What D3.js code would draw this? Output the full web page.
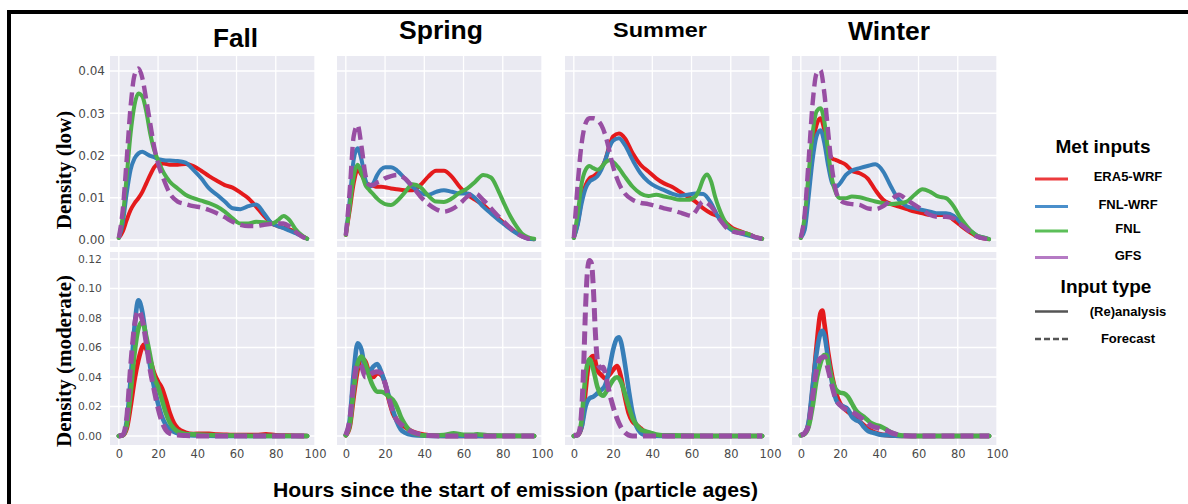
<!DOCTYPE html>
<html><head><meta charset="utf-8">
<script src="https://cdn.jsdelivr.net/npm/d3@7"></script>
<style>body{margin:0;background:#fff}svg{display:block}</style>
</head><body><svg id="c" width="1188" height="504"></svg>
<script>
// ---------------- data ----------------
const seasons = ["Fall", "Spring", "Summer", "Winter"];
const metInputs = ["ERA5-WRF", "FNL-WRF", "FNL", "GFS"];
const inputTypes = ["(Re)analysis", "Forecast"];
const metInputType = ["(Re)analysis", "(Re)analysis", "(Re)analysis", "Forecast"];
const xTicks = [0, 20, 40, 60, 80, 100];
const yTicksLow = [0, 0.01, 0.02, 0.03, 0.04];
const yTicksMod = [0, 0.02, 0.04, 0.06, 0.08, 0.10, 0.12];
const rowLabels = ["Density (low)", "Density (moderate)"];
const xTitle = "Hours since the start of emission (particle ages)";

// [hours, density] pairs
const fallLowERA5WRF = [[0,.0005],[2,.002],[4,.0047],[6,.0071],[8,.0087],[10,.0099],[12,.0114],[14,.0134],[16,.0154],[18,.0172],[20,.018],[23,.0181],[26,.0178],[30,.0178],[34,.018],[38,.0175],[42,.0164],[46,.0151],[50,.014],[54,.013],[58,.0124],[62,.0112],[66,.0099],[70,.0079],[74,.0057],[78,.0039],[81,.0033],[84,.0029],[87,.0025],[90,.002],[93,.0011],[96,.0003]];
const fallLowFNLWRF = [[0,.0005],[2,.004],[4,.011],[6,.0166],[8,.0193],[10,.0205],[12,.0209],[14,.0204],[16,.0199],[18,.0196],[20,.0191],[23,.0189],[26,.0188],[30,.0187],[34,.0183],[38,.0166],[42,.0146],[46,.0122],[50,.0107],[54,.0091],[58,.0075],[62,.0073],[66,.008],[70,.0084],[74,.0063],[78,.0039],[81,.0033],[84,.0028],[87,.0022],[90,.0016],[93,.001],[96,.0003]];
const fallLowFNL = [[0,.0005],[2,.0055],[4,.015],[6,.0252],[8,.032],[10,.0347],[12,.034],[14,.0304],[16,.0252],[18,.0213],[20,.0189],[23,.0158],[26,.0138],[30,.0122],[34,.0107],[38,.0099],[42,.0093],[46,.0087],[50,.0079],[54,.0067],[58,.0051],[62,.0039],[66,.0039],[70,.0043],[74,.0042],[78,.0039],[81,.0046],[84,.0057],[87,.0047],[90,.0026],[93,.0012],[96,.0003]];
const fallLowGFS = [[0,.0005],[2,.0071],[4,.019],[6,.0316],[8,.039],[10,.0406],[12,.0383],[14,.0331],[16,.0276],[18,.0221],[20,.0181],[23,.0142],[26,.011],[30,.0091],[34,.0085],[38,.008],[42,.0077],[46,.0071],[50,.0063],[54,.0054],[58,.0043],[62,.0036],[66,.0033],[70,.0033],[74,.0036],[78,.0038],[81,.0039],[84,.0039],[87,.0032],[90,.002],[93,.0009],[96,.0002]];

const springLowERA5WRF = [[0,.0012],[2,.0071],[4,.0134],[6,.0166],[8,.0154],[10,.0138],[12,.013],[14,.0128],[16,.0126],[18,.0126],[20,.0125],[23,.0122],[26,.012],[30,.0118],[34,.0118],[38,.013],[42,.015],[46,.0164],[50,.0164],[54,.015],[58,.0126],[62,.0107],[66,.0095],[70,.0083],[74,.0067],[78,.0051],[81,.0039],[84,.0028],[87,.0017],[90,.0009],[93,.0004],[96,.0002]];
const springLowFNLWRF = [[0,.0015],[2,.0095],[4,.019],[6,.0217],[8,.019],[10,.0142],[12,.0126],[14,.0134],[16,.0154],[18,.0167],[20,.0172],[23,.0172],[26,.0165],[30,.0146],[34,.0126],[38,.0112],[42,.0107],[46,.0114],[50,.0118],[54,.0114],[58,.011],[62,.011],[66,.0099],[70,.0079],[74,.0063],[78,.0047],[81,.0036],[84,.0025],[87,.0016],[90,.0008],[93,.0003],[96,.0002]];
const springLowFNL = [[0,.0012],[2,.0079],[4,.015],[6,.0178],[8,.0158],[10,.013],[12,.0118],[14,.0108],[16,.0098],[18,.009],[20,.0085],[23,.0083],[26,.0092],[30,.0112],[34,.0132],[38,.0125],[42,.0105],[46,.0091],[50,.009],[54,.0098],[58,.0112],[62,.0122],[66,.0138],[70,.0154],[74,.0148],[78,.0114],[81,.0083],[84,.0055],[87,.0032],[90,.0014],[93,.0006],[96,.0003]];
const springLowGFS = [[0,.001],[2,.0118],[4,.0245],[6,.0272],[8,.0221],[10,.0154],[12,.013],[14,.013],[16,.0136],[18,.014],[20,.0146],[23,.0151],[26,.0154],[30,.0146],[34,.0126],[38,.0103],[42,.0085],[46,.0073],[50,.0067],[54,.0073],[58,.0085],[62,.0103],[66,.011],[70,.0095],[74,.0075],[78,.0055],[81,.0041],[84,.0028],[87,.0016],[90,.0008],[93,.0003],[96,.0002]];

const summerLowERA5WRF = [[0,.0005],[2,.004],[4,.0095],[6,.013],[8,.0146],[10,.0151],[12,.0158],[14,.017],[16,.0189],[18,.0221],[20,.0245],[23,.0252],[26,.0241],[30,.0205],[34,.0178],[38,.0162],[42,.0146],[46,.0134],[50,.0126],[54,.0114],[58,.0103],[62,.0091],[66,.0075],[70,.0063],[74,.0055],[78,.0039],[81,.0028],[84,.0022],[87,.0017],[90,.0012],[93,.0006],[96,.0003]];
const summerLowFNLWRF = [[0,.0005],[2,.0036],[4,.0087],[6,.0122],[8,.0138],[10,.0144],[12,.0151],[14,.0166],[16,.0189],[18,.0217],[20,.0235],[23,.0241],[26,.0225],[30,.0189],[34,.0158],[38,.0138],[42,.0126],[46,.0118],[50,.011],[54,.0105],[58,.0107],[62,.011],[66,.0109],[70,.0087],[74,.0051],[78,.0032],[81,.0022],[84,.0017],[87,.0013],[90,.0009],[93,.0005],[96,.0003]];
const summerLowFNL = [[0,.0005],[2,.0063],[4,.0134],[6,.0166],[8,.0175],[10,.017],[12,.0166],[14,.0172],[16,.0183],[18,.0189],[20,.0185],[23,.017],[26,.015],[30,.0126],[34,.011],[38,.0104],[42,.0107],[46,.0103],[50,.0099],[54,.0095],[58,.0095],[62,.0103],[64,.012],[66,.0145],[68,.0155],[70,.0138],[72,.0103],[74,.0075],[78,.0037],[81,.0025],[84,.002],[87,.0017],[90,.0012],[93,.0006],[96,.0003]];
const summerLowGFS = [[0,.0005],[2,.0134],[4,.0229],[6,.0276],[8,.0288],[10,.0288],[12,.0284],[14,.0272],[16,.0249],[18,.0213],[20,.0174],[23,.0134],[26,.011],[30,.0095],[34,.0088],[38,.0085],[42,.008],[46,.0075],[50,.0071],[54,.0065],[58,.0059],[60,.0057],[62,.0067],[66,.0091],[70,.0079],[74,.0051],[78,.0028],[81,.002],[84,.0017],[87,.0016],[90,.0012],[93,.0006],[96,.0003]];

const winterLowERA5WRF = [[0,.0005],[2,.004],[4,.0134],[6,.0221],[8,.0272],[10,.0288],[12,.026],[14,.0213],[16,.0193],[18,.0189],[20,.0185],[23,.0178],[26,.0164],[30,.0158],[34,.0146],[38,.0118],[42,.0095],[46,.0085],[50,.0079],[54,.0073],[58,.0067],[62,.0063],[66,.0059],[70,.0059],[74,.0059],[78,.0047],[81,.0036],[84,.0025],[87,.0016],[90,.0008],[93,.0004],[96,.0002]];
const winterLowFNLWRF = [[0,.0005],[2,.0024],[4,.0103],[6,.0189],[8,.0245],[10,.026],[12,.0229],[14,.0174],[16,.0134],[18,.0126],[20,.0134],[23,.0154],[26,.0164],[30,.017],[34,.0175],[38,.0179],[42,.0162],[46,.0126],[50,.0095],[54,.008],[58,.0075],[62,.0071],[66,.0067],[70,.0063],[74,.0063],[78,.0057],[81,.0043],[84,.0032],[87,.002],[90,.001],[93,.0006],[96,.0002]];
const winterLowFNL = [[0,.0005],[2,.0055],[4,.0158],[6,.0252],[8,.0304],[10,.0312],[12,.028],[14,.0205],[16,.0142],[18,.011],[20,.0099],[23,.0099],[26,.0103],[30,.0101],[34,.0096],[38,.0091],[42,.0087],[46,.0085],[50,.0087],[54,.0091],[58,.0107],[62,.012],[66,.0114],[70,.0103],[74,.0099],[78,.0079],[81,.0055],[84,.0036],[87,.002],[90,.001],[93,.0006],[96,.0002]];
const winterLowGFS = [[0,.0005],[2,.0063],[4,.019],[6,.0323],[8,.0394],[10,.0402],[12,.0347],[14,.0252],[16,.0166],[18,.0114],[20,.0095],[23,.0087],[26,.0085],[30,.0083],[34,.0075],[38,.0073],[42,.008],[46,.0095],[50,.0107],[54,.0095],[58,.0083],[62,.0071],[66,.0059],[70,.0055],[74,.0055],[78,.0051],[81,.0039],[84,.0028],[87,.0016],[90,.0008],[93,.0004],[96,.0002]];

const fallModERA5WRF = [[0,0],[2,.0005],[4,.005],[6,.02],[8,.038],[10,.0515],[12,.0606],[13,.062],[14,.059],[16,.0515],[18,.0425],[20,.0368],[22,.0323],[24,.0244],[26,.0154],[28,.009],[30,.0052],[34,.0023],[38,.0014],[42,.0015],[46,.0015],[50,.001],[55,.0008],[60,.0006],[70,.0006],[75,.0012],[80,.0005],[90,.0002],[96,0]];
const fallModFNLWRF = [[0,0],[2,.0007],[4,.0097],[6,.038],[8,.074],[10,.092],[12,.084],[14,.065],[16,.047],[18,.033],[20,.022],[22,.013],[24,.0075],[26,.0045],[28,.003],[30,.0018],[34,.0007],[40,.0003],[50,0],[96,0]];
const fallModFNL = [[0,0],[2,.0005],[4,.007],[6,.029],[8,.056],[10,.073],[12,.0775],[14,.0673],[16,.054],[18,.04],[20,.0334],[22,.0244],[24,.0154],[26,.009],[28,.0052],[30,.003],[34,.0014],[40,.001],[50,.0005],[60,.0003],[70,0],[96,0]];
const fallModGFS = [[0,0],[2,.0008],[4,.012],[6,.047],[8,.075],[10,.085],[12,.0786],[14,.0628],[16,.0447],[18,.0312],[20,.0188],[22,.0097],[24,.004],[26,.0018],[30,.0007],[34,.0003],[40,0],[96,0]];

const springModERA5WRF = [[0,.0005],[2,.0063],[4,.0267],[6,.0447],[8,.0527],[10,.0504],[12,.0425],[14,.04],[16,.0425],[18,.0414],[20,.0357],[22,.0244],[24,.0154],[26,.0108],[28,.0086],[30,.0063],[32,.0045],[34,.003],[38,.0014],[42,.0005],[50,0],[96,0]];
const springModFNLWRF = [[0,.0007],[2,.011],[4,.0425],[6,.0628],[8,.0583],[10,.0447],[12,.0436],[14,.047],[16,.0488],[18,.0436],[20,.0357],[22,.0267],[24,.0176],[26,.0097],[28,.0045],[30,.0023],[34,.0007],[40,.0002],[50,0],[96,0]];
const springModFNL = [[0,.0005],[2,.0075],[4,.031],[6,.049],[8,.0538],[10,.049],[12,.04],[14,.0334],[16,.03],[18,.03],[20,.0289],[22,.0267],[24,.0244],[26,.0199],[28,.0131],[30,.0081],[32,.0045],[34,.0023],[38,.0007],[42,.0003],[50,.0007],[55,.0018],[60,.0008],[65,.0008],[67,.0012],[72,.0005],[80,.0002],[96,0]];
const springModGFS = [[0,.0005],[2,.011],[4,.0357],[6,.049],[8,.047],[10,.04],[12,.0414],[14,.043],[16,.0436],[18,.0425],[20,.0357],[22,.0255],[24,.0165],[26,.0108],[28,.0081],[30,.0059],[32,.004],[34,.0027],[38,.0011],[42,.0004],[50,0],[96,0]];

const summerModERA5WRF = [[0,0],[2,.0007],[4,.0063],[5,.0176],[6,.031],[8,.0515],[10,.0542],[12,.0447],[14,.0414],[16,.039],[18,.0414],[20,.0447],[22,.0475],[24,.0402],[26,.0267],[28,.0154],[30,.0097],[32,.0075],[34,.0052],[36,.0029],[38,.0014],[40,.0007],[45,.0002],[50,0],[96,0]];
const summerModFNLWRF = [[0,0],[2,.0007],[4,.0063],[6,.02],[8,.0255],[10,.0267],[12,.0289],[14,.0312],[16,.0345],[18,.0447],[20,.0583],[22,.0662],[23,.0669],[24,.064],[26,.0493],[28,.0312],[30,.0154],[32,.0063],[34,.0023],[36,.0007],[40,.0002],[50,0],[96,0]];
const summerModFNL = [[0,0],[2,.001],[4,.0108],[5,.0267],[6,.0414],[8,.052],[10,.0447],[12,.0334],[14,.0278],[15,.0273],[16,.0289],[18,.0334],[20,.038],[22,.0398],[24,.0368],[26,.0289],[28,.0199],[30,.012],[32,.0075],[34,.0045],[36,.0034],[38,.0025],[40,.0018],[42,.0011],[45,.0005],[50,.0004],[60,.0001],[70,0],[96,0]];
const summerModGFS = [[0,.0005],[2,.0007],[3,.004],[4,.0176],[5,.047],[6,.0877],[7,.1125],[8,.119],[9,.117],[10,.099],[11,.0696],[12,.0515],[13,.047],[14,.0459],[15,.0466],[16,.0425],[18,.03],[20,.02],[22,.012],[24,.006],[26,.0025],[28,.0006],[30,0],[96,0]];

const winterModERA5WRF = [[0,.0005],[2,.0018],[4,.0086],[6,.0312],[8,.0606],[10,.0832],[11,.085],[12,.0764],[14,.056],[16,.0402],[18,.0289],[20,.0221],[22,.0188],[24,.0165],[26,.0142],[28,.012],[30,.0097],[32,.0075],[34,.0052],[36,.0034],[38,.0023],[40,.0014],[44,.0005],[48,.0002],[55,0],[96,0]];
const winterModFNLWRF = [[0,.0005],[2,.002],[4,.0097],[6,.0334],[8,.056],[10,.0696],[11,.0714],[12,.0685],[14,.0515],[16,.0357],[18,.0244],[20,.021],[22,.0199],[24,.0181],[26,.0131],[28,.0108],[30,.0097],[32,.0063],[34,.0036],[36,.0025],[38,.0018],[40,.0011],[44,.0005],[48,.0002],[55,0],[96,0]];
const winterModFNL = [[0,.0005],[2,.0015],[4,.0063],[6,.0199],[8,.038],[10,.0493],[12,.0549],[13,.0549],[14,.0493],[16,.038],[18,.0312],[20,.0294],[22,.0289],[24,.0267],[26,.0221],[28,.0176],[30,.0149],[32,.0131],[34,.0108],[36,.0086],[38,.0075],[40,.0068],[42,.0056],[44,.0041],[46,.0025],[48,.0014],[50,.0007],[54,.0002],[60,0],[96,0]];
const winterModGFS = [[0,.0005],[2,.002],[4,.0075],[6,.0267],[8,.0447],[10,.0527],[12,.0538],[14,.0447],[16,.0334],[18,.0244],[20,.021],[22,.0188],[24,.0176],[26,.0165],[28,.0149],[30,.0131],[32,.0108],[34,.0086],[36,.0068],[38,.0059],[40,.0052],[42,.0045],[44,.0036],[46,.0023],[48,.0014],[50,.0007],[54,.0002],[60,0],[96,0]];

// table built from the arrays: rows x seasons x met inputs
const panelData = [
  [[fallLowERA5WRF, fallLowFNLWRF, fallLowFNL, fallLowGFS],
   [springLowERA5WRF, springLowFNLWRF, springLowFNL, springLowGFS],
   [summerLowERA5WRF, summerLowFNLWRF, summerLowFNL, summerLowGFS],
   [winterLowERA5WRF, winterLowFNLWRF, winterLowFNL, winterLowGFS]],
  [[fallModERA5WRF, fallModFNLWRF, fallModFNL, fallModGFS],
   [springModERA5WRF, springModFNLWRF, springModFNL, springModGFS],
   [summerModERA5WRF, summerModFNLWRF, summerModFNL, summerModGFS],
   [winterModERA5WRF, winterModFNLWRF, winterModFNL, winterModGFS]]
];

// ---------------- layout & style ----------------
const colors = ["#e41a1c", "#377eb8", "#4daf4a", "#984ea3"];
const legendColors = ["#ec3b3d", "#4a8fcb", "#5cbf59", "#b57ac4"];
const colLeft = [110, 337, 565, 792];
const panelW = 205;
const rowTop = [56, 252];
const rowH = [191, 193];
const xDomain = [-4.5, 100];
const yDomains = [[-0.00166, 0.04355], [-0.0061, 0.12475]];
const yTicksByRow = [yTicksLow, yTicksMod];
const lineW = [4, 4.6];
const titleStyle = [
  {x: 235.5, y: 47, size: 26, len: 45},
  {x: 441, y: 39, size: 26, len: 84},
  {x: 660, y: 37, size: 21, len: 94},
  {x: 889, y: 40, size: 25.5, len: 82}
];
const sans = "'Liberation Sans', Arial, Helvetica, sans-serif";
const tickFont = "'DejaVu Sans', sans-serif";

const svg = d3.select("#c");
svg.append("rect").attr("width", 1188).attr("height", 504).attr("fill", "#fff");

// frame
svg.append("rect").attr("x", 7).attr("y", 10).attr("width", 1181).attr("height", 4).attr("fill", "#000");
svg.append("rect").attr("x", 7).attr("y", 10).attr("width", 4).attr("height", 494).attr("fill", "#000");

const x = d3.scaleLinear().domain(xDomain).range([0, panelW]);

for (let r = 0; r < 2; r++) {
  const y = d3.scaleLinear().domain(yDomains[r]).range([rowH[r], 0]);
  const line = d3.line().x(d => x(d[0])).y(d => y(d[1])).curve(d3.curveMonotoneX);
  for (let c = 0; c < 4; c++) {
    const g = svg.append("g").attr("transform", `translate(${colLeft[c]},${rowTop[r]})`);
    g.append("rect").attr("width", panelW).attr("height", rowH[r]).attr("fill", "#eaeaf2");
    // grid
    g.selectAll(".gy").data(yTicksByRow[r]).join("line")
      .attr("x1", 0).attr("x2", panelW).attr("y1", d => y(d)).attr("y2", d => y(d))
      .attr("stroke", "#fff").attr("stroke-width", 1.3);
    g.selectAll(".gx").data(xTicks).join("line")
      .attr("y1", 0).attr("y2", rowH[r]).attr("x1", d => x(d)).attr("x2", d => x(d))
      .attr("stroke", "#fff").attr("stroke-width", 1.3);
    // curves
    panelData[r][c].forEach((series, i) => {
      const dashed = metInputType[i] === "Forecast";
      g.append("path").datum(series).attr("d", line)
        .attr("fill", "none").attr("stroke", colors[i])
        .attr("stroke-width", dashed ? lineW[r] + 0.4 : lineW[r])
        .attr("stroke-linejoin", "round")
        .attr("stroke-linecap", dashed ? "butt" : "round")
        .attr("stroke-dasharray", dashed ? "13,6" : null);
    });
    // y tick labels (first column)
    if (c === 0) {
      const yAxis = d3.axisLeft(y).tickValues(yTicksByRow[r]).tickSize(0).tickPadding(r === 0 ? 5 : 8)
        .tickFormat(d3.format(".2f"));
      const ga = g.append("g").call(yAxis);
      ga.select(".domain").remove();
      ga.selectAll("text").attr("font-family", tickFont).attr("font-size", r === 0 ? 12 : 10.8).attr("fill", "#4a4a4a");
    }
    // x tick labels (bottom row)
    if (r === 1) {
      const xAxis = d3.axisBottom(x).tickValues(xTicks).tickSize(0).tickPadding(5).tickFormat(d3.format("d"));
      const ga = g.append("g").attr("transform", `translate(0,${rowH[r]})`).call(xAxis);
      ga.select(".domain").remove();
      ga.selectAll("text").attr("font-family", tickFont).attr("font-size", 11.5).attr("fill", "#4a4a4a");
    }
  }
}

// season titles
seasons.forEach((s, i) => {
  const t = titleStyle[i];
  svg.append("text").attr("x", t.x).attr("y", t.y).attr("text-anchor", "middle")
    .attr("font-family", sans).attr("font-weight", "bold").attr("font-size", t.size)
    .attr("textLength", t.len).attr("lengthAdjust", "spacingAndGlyphs")
    .text(s);
});

// row labels
[170, 361].forEach((cy, r) => {
  svg.append("text").attr("transform", `translate(71,${cy}) rotate(-90)`)
    .attr("text-anchor", "middle").attr("font-family", "'Liberation Serif', 'Times New Roman', serif")
    .attr("font-weight", "bold").attr("font-size", 21).text(rowLabels[r]);
});

// x title
svg.append("text").attr("x", 515.5).attr("y", 497).attr("text-anchor", "middle")
  .attr("font-family", sans).attr("font-weight", "bold").attr("font-size", 21)
  .attr("textLength", 485).attr("lengthAdjust", "spacingAndGlyphs").text(xTitle);

// legend
const lg = svg.append("g");
lg.append("text").attr("x", 1103).attr("y", 153).attr("text-anchor", "middle")
  .attr("font-family", sans).attr("font-weight", "bold").attr("font-size", 19).text("Met inputs");
const metLineY = [179, 206.5, 231, 257.5];
metInputs.forEach((m, i) => {
  lg.append("line").attr("x1", 1035).attr("x2", 1068).attr("y1", metLineY[i]).attr("y2", metLineY[i])
    .attr("stroke", legendColors[i]).attr("stroke-width", 3);
  lg.append("text").attr("x", 1128).attr("y", metLineY[i] + 2).attr("text-anchor", "middle")
    .attr("font-family", sans).attr("font-weight", "bold").attr("font-size", 13).text(m);
});
lg.append("text").attr("x", 1106).attr("y", 292.5).attr("text-anchor", "middle")
  .attr("font-family", sans).attr("font-weight", "bold").attr("font-size", 19).text("Input type");
const typeLineY = [311.5, 339];
inputTypes.forEach((t, i) => {
  lg.append("line").attr("x1", 1035).attr("x2", 1068).attr("y1", typeLineY[i]).attr("y2", typeLineY[i])
    .attr("stroke", "#555").attr("stroke-width", 2.5)
    .attr("stroke-dasharray", i === 1 ? "6,3" : null);
  lg.append("text").attr("x", 1128).attr("y", typeLineY[i] + 4).attr("text-anchor", "middle")
    .attr("font-family", sans).attr("font-weight", "bold").attr("font-size", 13).text(t);
});
</script>
</body></html>
